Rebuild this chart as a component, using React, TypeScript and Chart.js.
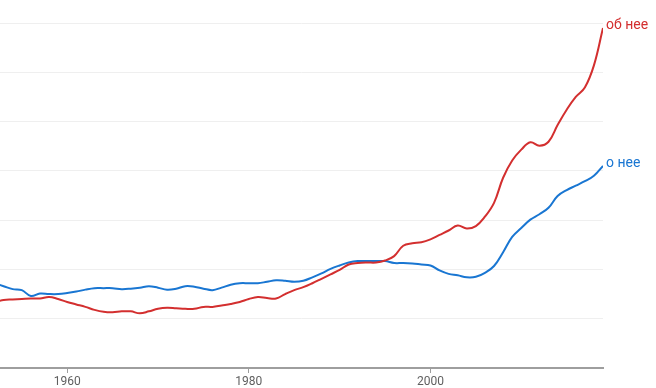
import React, { useEffect, useRef } from "react";
import { Chart, registerables } from "chart.js";

Chart.register(...registerables);

const years = [
  1952, 1953, 1954, 1955, 1956, 1957, 1958, 1959, 1960, 1961,
  1962, 1963, 1964, 1965, 1966, 1967, 1968, 1969, 1970, 1971,
  1972, 1973, 1974, 1975, 1976, 1977, 1978, 1979, 1980, 1981,
  1982, 1983, 1984, 1985, 1986, 1987, 1988, 1989, 1990, 1991,
  1992, 1993, 1994, 1995, 1996, 1997, 1998, 1999, 2000, 2001,
  2002, 2003, 2004, 2005, 2006, 2007, 2008, 2009, 2010, 2011,
  2012, 2013, 2014, 2015, 2016, 2017, 2018, 2019,
];

const obNee = [
  1.34, 1.38, 1.39, 1.40, 1.41, 1.41, 1.44, 1.40, 1.34, 1.29,
  1.24, 1.18, 1.14, 1.13, 1.15, 1.15, 1.11, 1.15, 1.20, 1.22,
  1.21, 1.20, 1.20, 1.24, 1.24, 1.27, 1.30, 1.34, 1.40, 1.44,
  1.42, 1.41, 1.50, 1.58, 1.64, 1.72, 1.81, 1.90, 1.99, 2.10,
  2.13, 2.14, 2.14, 2.18, 2.27, 2.48, 2.53, 2.55, 2.61, 2.70,
  2.79, 2.89, 2.83, 2.88, 3.07, 3.35, 3.86, 4.21, 4.43, 4.58,
  4.51, 4.59, 4.93, 5.24, 5.50, 5.69, 6.14, 6.90,
];

const oNee = [
  1.72, 1.66, 1.60, 1.58, 1.46, 1.51, 1.50, 1.50, 1.52, 1.55,
  1.59, 1.62, 1.62, 1.62, 1.60, 1.61, 1.63, 1.66, 1.63, 1.59,
  1.61, 1.66, 1.65, 1.61, 1.58, 1.63, 1.69, 1.72, 1.72, 1.72,
  1.75, 1.78, 1.77, 1.75, 1.77, 1.84, 1.92, 2.01, 2.08, 2.14,
  2.17, 2.17, 2.17, 2.17, 2.13, 2.13, 2.12, 2.10, 2.08, 1.98,
  1.91, 1.88, 1.84, 1.85, 1.93, 2.07, 2.35, 2.66, 2.84, 3.01,
  3.12, 3.25, 3.49, 3.61, 3.70, 3.79, 3.90, 4.10,
];

const seriesNames = ["об нее", "о нее"];
const xTickValues = [1960, 1980, 2000];

const endLabelPlugin = {
  id: "endLabels",
  afterDatasetsDraw(chart: any) {
    const ctx = chart.ctx;
    chart.data.datasets.forEach((ds: any, i: number) => {
      const meta = chart.getDatasetMeta(i);
      const last = meta.data[meta.data.length - 1];
      if (!last) return;
      ctx.save();
      ctx.font = "14px Roboto";
      ctx.fillStyle = ds.borderColor;
      ctx.textBaseline = "middle";
      ctx.textAlign = "left";
      ctx.fillText(ds.label, last.x + 3, last.y - 2);
      ctx.restore();
    });
  },
};

export default function App() {
  const ref = useRef<HTMLCanvasElement>(null);
  useEffect(() => {
    if (!ref.current) return;
    const chart = new Chart(ref.current, {
      type: "line",
      data: {
        datasets: [
          {
            label: seriesNames[0],
            data: years.map((y, i) => ({ x: y, y: obNee[i] })),
            borderColor: "#d32f2f",
            borderWidth: 2,
            pointRadius: 0,
            tension: 0.4,
            fill: false,
          },
          {
            label: seriesNames[1],
            data: years.map((y, i) => ({ x: y, y: oNee[i] })),
            borderColor: "#1976d2",
            borderWidth: 2,
            pointRadius: 0,
            tension: 0.4,
            fill: false,
          },
        ],
      },
      options: {
        responsive: false,
        animation: false,
        layout: { padding: { top: 23, right: 53, left: 0, bottom: 0 } },
        plugins: {
          legend: { display: false },
          tooltip: { enabled: false },
        },
        scales: {
          x: {
            type: "linear",
            min: 1952.6,
            max: 2019,
            afterBuildTicks: (s: any) => {
              s.ticks = xTickValues.map((v) => ({ value: v }));
            },
            afterFit: (s: any) => {
              s.height = 20;
            },
            grid: {
              drawOnChartArea: false,
              drawTicks: true,
              tickLength: 5,
              color: "#9e9e9e",
            },
            border: { display: true, color: "#9e9e9e", width: 2 },
            ticks: {
              padding: 2,
              color: "#5f5f5f",
              font: { family: "Roboto", size: 12 },
              maxRotation: 0,
              autoSkip: false,
              callback: (v: any) => String(v),
            },
          },
          y: {
            min: 0,
            max: 7,
            afterFit: (s: any) => {
              s.width = 0;
            },
            ticks: { display: false, stepSize: 1 },
            grid: { color: "#efefef", drawTicks: false },
            border: { display: false },
          },
        },
      },
      plugins: [endLabelPlugin],
    });
    return () => chart.destroy();
  }, []);
  return (
    <div style={{ position: "fixed", left: 0, top: 0, width: 656, height: 388, background: "#fff" }}>
      <canvas ref={ref} width={656} height={388} style={{ display: "block" }} />
    </div>
  );
}
